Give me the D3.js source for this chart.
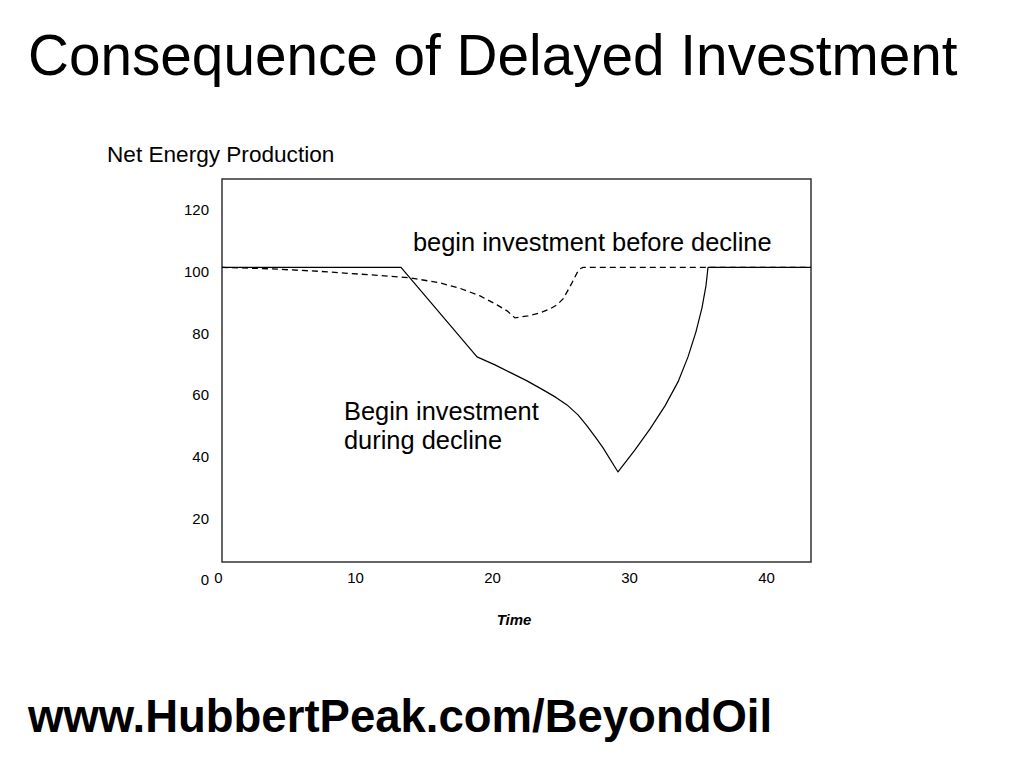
<!DOCTYPE html>
<html>
<head>
<meta charset="utf-8">
<script src="https://cdn.jsdelivr.net/npm/d3@7"></script>
<style>
  body { margin: 0; background: #fff; }
  text { font-family: "Liberation Sans", Arial, Helvetica, sans-serif; fill: #000; }
</style>
</head>
<body>
<svg id="chart" width="1024" height="768"></svg>
<script>
// Series (time, net energy)
const duringTime  = [0.36, 13.43, 18.98, 20.29, 21.39, 22.63, 23.80, 24.74, 25.55, 26.35, 27.01, 27.66, 28.18, 29.27,
                     30.51, 31.61, 32.70, 33.65, 34.38, 34.96, 35.40, 35.69, 35.84, 43.36];
const duringValue = [101.36, 101.36, 72.33, 69.74, 67.30, 64.55, 61.63, 59.20, 56.76, 53.52, 49.95, 46.06, 42.82, 35.03,
                     42.17, 48.98, 56.44, 64.22, 72.33, 80.44, 88.23, 95.36, 101.36, 101.36];

const beforeTime  = [0.36, 3.87, 7.52, 11.17, 14.09, 16.28, 17.74, 19.20, 20.44, 21.17, 21.75, 22.70, 23.58, 24.31,
                     24.82, 25.26, 25.55, 25.91, 26.28, 26.50, 26.72, 43.36];
const beforeValue = [101.36, 100.88, 100.06, 98.93, 97.96, 96.33, 94.55, 92.12, 89.20, 87.25, 84.98, 85.63, 86.60, 87.90,
                     89.20, 91.14, 93.42, 96.33, 99.58, 100.88, 101.36, 101.36];

const xTicks = [0, 10, 20, 30, 40];
const yTicks = [0, 20, 40, 60, 80, 100, 120];

const svg = d3.select("#chart");

svg.append("rect").attr("width", 1024).attr("height", 768).attr("fill", "#fff");

// scales
const x = d3.scaleLinear().domain([0, 40]).range([217, 765]);
const y = d3.scaleLinear().domain([0, 130]).range([580, 179]);

// title
svg.append("text")
  .attr("x", 28).attr("y", 75)
  .style("font-size", "56.7px")
  .text("Consequence of Delayed Investment");

// plot frame
svg.append("rect")
  .attr("x", 222).attr("y", 179)
  .attr("width", 811 - 222).attr("height", 562 - 179)
  .attr("fill", "none")
  .attr("stroke", "#333")
  .attr("stroke-width", 1.5);

// axes (labels only)
const yAxis = svg.append("g")
  .attr("transform", "translate(209,0)")
  .call(d3.axisLeft(y).tickValues(yTicks).tickSize(0).tickPadding(0));
yAxis.select(".domain").remove();

const xAxis = svg.append("g")
  .attr("transform", "translate(1,572)")
  .call(d3.axisBottom(x).tickValues(xTicks).tickSize(0).tickPadding(0));
xAxis.select(".domain").remove();

svg.selectAll(".tick text")
  .style("font-family", "'Liberation Sans', Arial, sans-serif")
  .style("font-size", "15px")
  .attr("fill", "#000");

// y label
svg.append("text")
  .attr("x", 107).attr("y", 162)
  .style("font-size", "22.6px")
  .text("Net Energy Production");

// x label
svg.append("text")
  .attr("x", 514).attr("y", 625)
  .attr("text-anchor", "middle")
  .style("font-size", "15px")
  .style("font-weight", "bold")
  .style("font-style", "italic")
  .text("Time");

// lines
const line = d3.line()
  .x(d => x(d[0]))
  .y(d => y(d[1]));

svg.append("path")
  .datum(beforeTime.map((t, i) => [t, beforeValue[i]]))
  .attr("fill", "none")
  .attr("stroke", "#000")
  .attr("stroke-width", 1.3)
  .attr("stroke-dasharray", "6,4")
  .attr("d", line);

svg.append("path")
  .datum(duringTime.map((t, i) => [t, duringValue[i]]))
  .attr("fill", "none")
  .attr("stroke", "#000")
  .attr("stroke-width", 1.2)
  .attr("stroke-linejoin", "round")
  .attr("d", line);

// annotations
svg.append("text")
  .attr("x", 413).attr("y", 251)
  .style("font-size", "25.4px")
  .text("begin investment before decline");

svg.append("text")
  .attr("x", 344).attr("y", 420)
  .style("font-size", "25.4px")
  .text("Begin investment");

svg.append("text")
  .attr("x", 344).attr("y", 449)
  .style("font-size", "25.4px")
  .text("during decline");

// footer
svg.append("text")
  .attr("x", 28).attr("y", 732)
  .style("font-size", "45.5px")
  .style("font-weight", "bold")
  .text("www.HubbertPeak.com/BeyondOil");
</script>
</body>
</html>
